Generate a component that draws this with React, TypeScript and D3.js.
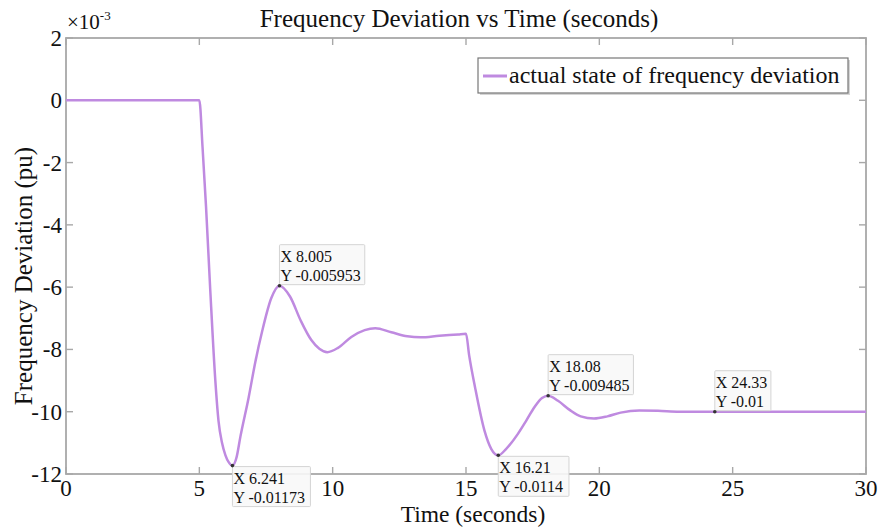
import React from "react";
import * as d3 from "d3";

const timeValues = [0, 5.0, 5.12, 5.25, 5.41, 5.6, 5.72, 5.85, 5.98, 6.1, 6.241, 6.4, 6.54, 6.85, 7.1, 7.36, 7.7, 8.005, 8.4, 8.8, 9.2, 9.5, 9.8, 10.2, 10.7, 11.2, 11.6, 12.2, 12.8, 13.3, 14.0, 14.7, 15.0, 15.12, 15.34, 15.69, 15.95, 16.21, 16.5, 16.94, 17.25, 17.57, 17.85, 18.08, 18.45, 18.9, 19.3, 19.8, 20.3, 20.8, 21.5, 22.2, 23.0, 24.33, 30];
const deviationValues = [0, 0, -1.5, -3.4, -6.1, -9.0, -10.3, -11.0, -11.4, -11.62, -11.73, -11.45, -10.8, -9.54, -8.4, -7.4, -6.35, -5.953, -6.3, -7.07, -7.7, -7.98, -8.09, -7.95, -7.6, -7.38, -7.32, -7.45, -7.58, -7.61, -7.56, -7.52, -7.5, -8.2, -9.22, -10.6, -11.2, -11.4, -11.2, -10.72, -10.3, -9.85, -9.56, -9.485, -9.65, -9.95, -10.15, -10.22, -10.15, -10.03, -9.96, -9.97, -10.0, -10.0, -10.0];

const xTicks = [0, 5, 10, 15, 20, 25, 30];
const yTicks = [2, 0, -2, -4, -6, -8, -10, -12];

const tipX = [8.005, 6.241, 16.21, 18.08, 24.33];
const tipY = [-5.953, -11.73, -11.4, -9.485, -10.0];
const tipXLabel = ["X 8.005", "X 6.241", "X 16.21", "X 18.08", "X 24.33"];
const tipYLabel = ["Y -0.005953", "Y -0.01173", "Y -0.0114", "Y -0.009485", "Y -0.01"];
const tipAbove = [true, false, false, true, true];

const W = 885;
const H = 527;
const M = { left: 66, right: 19, top: 38, bottom: 53 };
const FONT = "'Liberation Serif', 'Times New Roman', Times, serif";
const LINE_COLOR = "#bf8ae0";
const AXIS_COLOR = "#a8a8a8";

export default function App() {
  const x = d3.scaleLinear().domain([0, 30]).range([M.left, W - M.right]);
  const y = d3.scaleLinear().domain([-12, 2]).range([H - M.bottom, M.top]);
  const pts: [number, number][] = timeValues.map((t, i) => [t, deviationValues[i]]);
  const line = d3
    .line<[number, number]>()
    .x((d) => x(d[0]))
    .y((d) => y(d[1]))
    .curve(d3.curveMonotoneX);
  const x0 = x(0), x1 = x(30), y0 = y(-12), y1 = y(2);
  const tick = 7;

  const boxWidths = tipYLabel.map((s) => s.length * 7.3 + 5);
  const boxH = 40;
  const ts = { fontFamily: FONT };

  return (
    <svg
      width={W}
      height={H}
      style={{ position: "absolute", left: 0, top: 0, background: "#fff", fontFamily: FONT }}
    >
      <rect x={0} y={0} width={W} height={H} fill="#fff" />
      {/* frame */}
      <rect x={x0} y={y1} width={x1 - x0} height={y0 - y1} fill="none" stroke={AXIS_COLOR} strokeWidth={1.8} />
      {xTicks.map((t) => (
        <g key={"xt" + t}>
          <line x1={x(t)} x2={x(t)} y1={y0} y2={y0 - tick} stroke={AXIS_COLOR} strokeWidth={1.4} />
          <line x1={x(t)} x2={x(t)} y1={y1} y2={y1 + tick} stroke={AXIS_COLOR} strokeWidth={1.4} />
          <text x={x(t)} y={y0 + 22} fontSize={23} textAnchor="middle" fill="#111" style={ts}>
            {t}
          </text>
        </g>
      ))}
      {yTicks.map((v) => (
        <g key={"yt" + v}>
          <line x1={x0} x2={x0 + tick} y1={y(v)} y2={y(v)} stroke={AXIS_COLOR} strokeWidth={1.4} />
          <line x1={x1} x2={x1 - tick} y1={y(v)} y2={y(v)} stroke={AXIS_COLOR} strokeWidth={1.4} />
          <text x={x0 - 4} y={y(v) + 8} fontSize={23} textAnchor="end" fill="#111" style={ts}>
            {v}
          </text>
        </g>
      ))}
      {/* exponent */}
      <text x={x0 + 1} y={29} fontSize={21} fill="#111" style={ts}>
        ×10
        <tspan dy={-9} fontSize={13}>-3</tspan>
      </text>
      {/* title */}
      <text x={459} y={27} fontSize={25} textAnchor="middle" fill="#111" style={ts}>
        Frequency Deviation vs Time (seconds)
      </text>
      {/* axis labels */}
      <text x={473} y={522} fontSize={23.5} textAnchor="middle" fill="#111" style={ts}>
        Time (seconds)
      </text>
      <text
        transform={`translate(32, 276) rotate(-90)`}
        fontSize={25}
        textAnchor="middle"
        fill="#111"
        style={ts}
      >
        Frequency Deviation (pu)
      </text>
      {/* curve */}
      <path d={line(pts) || ""} fill="none" stroke={LINE_COLOR} strokeWidth={2.5} strokeLinejoin="round" />
      {/* legend */}
      <g>
        <rect x={480} y={60} width={370} height={35} fill="#888" opacity={0.35} />
        <rect x={478} y={58} width={370} height={35} fill="#fff" stroke="#777" strokeWidth={1.2} />
        <line x1={483} x2={507} y1={76} y2={76} stroke={LINE_COLOR} strokeWidth={3} />
        <text x={509} y={83} fontSize={24} fill="#111" style={ts}>
          actual state of frequency deviation
        </text>
      </g>
      {/* data tips */}
      {tipX.map((t, i) => {
        const px = x(t);
        const py = y(tipY[i]);
        const bw = boxWidths[i];
        const by = tipAbove[i] ? py - boxH - 1 : py + 1;
        return (
          <g key={"tip" + i}>
            <rect x={px} y={by} width={bw} height={boxH} fill="#f8f8f8" fillOpacity={0.9} stroke="#d4d4d4" strokeWidth={1} rx={1} />
            <text x={px + 1} y={by + 17} fontSize={16} fill="#111" style={ts}>
              {tipXLabel[i]}
            </text>
            <text x={px + 1} y={by + 36} fontSize={16} fill="#111" style={ts}>
              {tipYLabel[i]}
            </text>
            <circle cx={px} cy={py} r={1.8} fill="#333" />
          </g>
        );
      })}
    </svg>
  );
}
